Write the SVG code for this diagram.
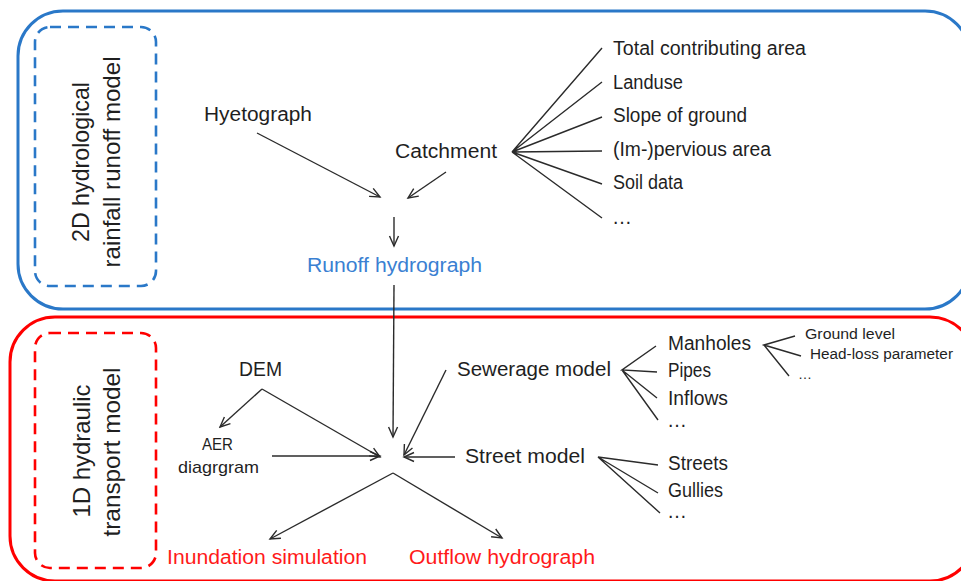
<svg xmlns="http://www.w3.org/2000/svg" width="961" height="581" viewBox="0 0 961 581">
<defs>
<marker id="arr" viewBox="-11 -6 13 12" markerWidth="13" markerHeight="12" refX="0" refY="0" orient="auto" markerUnits="userSpaceOnUse">
<path d="M-10,-4.5 L0,0 L-10,4.5" fill="none" stroke="#2b2b2b" stroke-width="1.4"/>
</marker>
</defs>
<style>
text{font-family:"Liberation Sans",Arial,sans-serif;fill:#1f1f1f}
.t{font-size:20px}
.s{font-size:17px}
.xs{font-size:14px}
.v{font-size:24px;text-anchor:middle}
.blue{fill:#3a80d2}
.red{fill:#ff1a1a}
.ln{stroke:#2b2b2b;stroke-width:1.4;fill:none}
.ar{stroke:#2b2b2b;stroke-width:1.4;fill:none;marker-end:url(#arr)}
</style>
<rect width="961" height="581" fill="#fff"/>
<g id="box-hydrological">
<rect x="18" y="11" width="952" height="298" rx="45" fill="none" stroke="#2a78c8" stroke-width="3"/>
<rect x="35" y="27" width="121" height="259" rx="15" fill="none" stroke="#2a78c8" stroke-width="2.6" stroke-dasharray="11,7"/>
<text class="v" transform="translate(89,162) rotate(-90)" textLength="160" lengthAdjust="spacingAndGlyphs">2D hydrological</text>
<text class="v" transform="translate(120,162) rotate(-90)" textLength="211" lengthAdjust="spacingAndGlyphs">rainfall runoff model</text>
</g>
<g id="box-hydraulic">
<rect x="10" y="317" width="965" height="264" rx="45" fill="none" stroke="#ff0000" stroke-width="3"/>
<rect x="35" y="333" width="121" height="235" rx="15" fill="none" stroke="#ff0000" stroke-width="2.6" stroke-dasharray="11,7"/>
<text class="v" transform="translate(90,451) rotate(-90)" textLength="133" lengthAdjust="spacingAndGlyphs">1D hydraulic</text>
<text class="v" transform="translate(120,452) rotate(-90)" textLength="169" lengthAdjust="spacingAndGlyphs">transport model</text>
</g>
<g id="hyetograph"><text class="t" x="204" y="121" textLength="108" lengthAdjust="spacingAndGlyphs">Hyetograph</text></g>
<g id="catchment"><text class="t" x="395" y="158" textLength="102" lengthAdjust="spacingAndGlyphs">Catchment</text></g>
<g id="catchment-attrs">
<text class="t" x="613" y="55" textLength="193" lengthAdjust="spacingAndGlyphs">Total contributing area</text>
<text class="t" x="613" y="89" textLength="70" lengthAdjust="spacingAndGlyphs">Landuse</text>
<text class="t" x="613" y="122" textLength="134" lengthAdjust="spacingAndGlyphs">Slope of ground</text>
<text class="t" x="613" y="156" textLength="158" lengthAdjust="spacingAndGlyphs">(Im-)pervious area</text>
<text class="t" x="613" y="189" textLength="70" lengthAdjust="spacingAndGlyphs">Soil data</text>
<text class="t" x="612" y="224">…</text>
</g>
<g id="runoff-hydrograph"><text class="t blue" x="307" y="272" textLength="175" lengthAdjust="spacingAndGlyphs">Runoff hydrograph</text></g>
<g id="dem"><text class="t" x="239" y="376" textLength="43" lengthAdjust="spacingAndGlyphs">DEM</text></g>
<g id="aer">
<text class="s" x="202" y="450" textLength="31" lengthAdjust="spacingAndGlyphs">AER</text>
<text class="s" x="178" y="473" textLength="81" lengthAdjust="spacingAndGlyphs">diagrgram</text>
</g>
<g id="sewerage"><text class="t" x="457" y="376" textLength="154" lengthAdjust="spacingAndGlyphs">Sewerage model</text></g>
<g id="sewerage-attrs">
<text class="t" x="668" y="350" textLength="83" lengthAdjust="spacingAndGlyphs">Manholes</text>
<text class="t" x="668" y="377" textLength="43" lengthAdjust="spacingAndGlyphs">Pipes</text>
<text class="t" x="668" y="405" textLength="60" lengthAdjust="spacingAndGlyphs">Inflows</text>
<text class="t" x="667" y="427">…</text>
</g>
<g id="manhole-attrs">
<text class="xs" x="805" y="339" textLength="90" lengthAdjust="spacingAndGlyphs">Ground level</text>
<text class="xs" x="810" y="359" textLength="143" lengthAdjust="spacingAndGlyphs">Head-loss parameter</text>
<text class="xs" x="798" y="379">…</text>
</g>
<g id="street"><text class="t" x="465" y="463" textLength="120" lengthAdjust="spacingAndGlyphs">Street model</text></g>
<g id="street-attrs">
<text class="t" x="668" y="470" textLength="60" lengthAdjust="spacingAndGlyphs">Streets</text>
<text class="t" x="668" y="497" textLength="55" lengthAdjust="spacingAndGlyphs">Gullies</text>
<text class="t" x="667" y="518">…</text>
</g>
<g id="inundation"><text class="t red" x="167" y="564" textLength="200" lengthAdjust="spacingAndGlyphs">Inundation simulation</text></g>
<g id="outflow"><text class="t red" x="409" y="564" textLength="186" lengthAdjust="spacingAndGlyphs">Outflow hydrograph</text></g>
<g id="connectors">
<line class="ar" x1="257" y1="133" x2="380" y2="197"/>
<line class="ar" x1="446" y1="172" x2="408" y2="198"/>
<line class="ar" x1="394" y1="217" x2="394" y2="246"/>
<line class="ar" x1="394" y1="285" x2="393" y2="437"/>
<path class="ln" d="M602,48 L512,152 L602,82 M512,152 L602,117 M512,152 L602,151 M512,152 L602,184 M512,152 L602,218"/>
<line class="ar" x1="262" y1="389" x2="220" y2="427"/>
<line class="ar" x1="262" y1="389" x2="380" y2="457"/>
<line class="ar" x1="272" y1="456" x2="380" y2="456"/>
<line class="ar" x1="446" y1="370" x2="404" y2="455"/>
<line class="ar" x1="455" y1="457" x2="404" y2="457"/>
<line class="ar" x1="393" y1="473" x2="270" y2="539"/>
<line class="ar" x1="393" y1="473" x2="502" y2="538"/>
<path class="ln" d="M656,346 L622,370 L657,372 M622,370 L657,398 M622,370 L658,420"/>
<path class="ln" d="M795,336 L764,345 L801,356 M764,345 L789,376"/>
<path class="ln" d="M658,465 L598,457 L658,493 M598,457 L660,513"/>
</g>
</svg>
